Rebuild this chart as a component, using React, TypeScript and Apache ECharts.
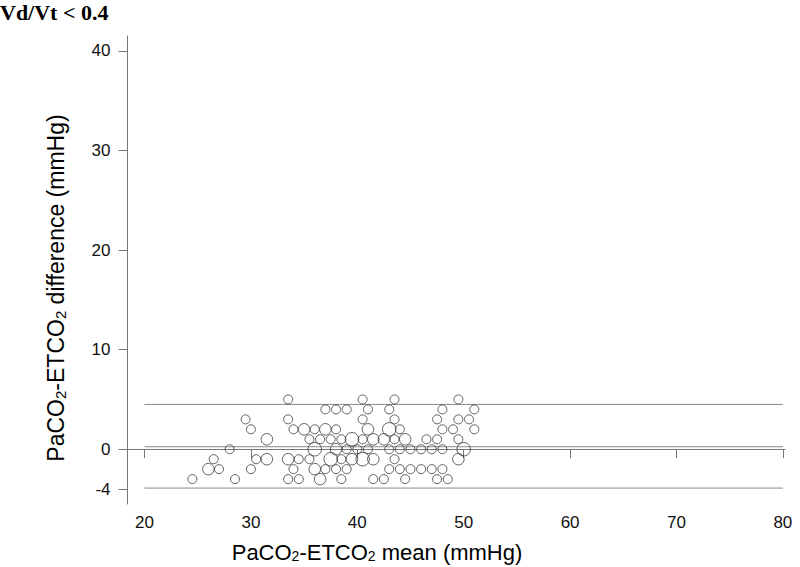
import React, { useEffect, useRef } from "react";
import * as echarts from "echarts";

// Bland-Altman data: mean of PaCO2 & ETCO2 (x), difference (y), number of overlapping cases (n)
const meanVals: number[] = [
  33.5, 40.5, 43.5, 49.5,
  37, 38, 39, 41, 43, 48, 51,
  29.5, 33.5, 40.5, 43.5, 47.5, 49.5, 50.5,
  30, 34, 35, 36, 37, 38, 41, 43, 44, 48, 49, 51,
  31.5, 35.5, 36.5, 37.5, 38.5, 39.5, 40.5, 41.5, 42.5, 43.5, 44.5, 46.5, 47.5, 49.5,
  28, 36, 38, 39, 40, 41, 43, 44, 45, 46, 47, 48, 50,
  26.5, 30.5, 31.5, 33.5, 34.5, 35.5, 37.5, 38.5, 39.5, 40.5, 41.5, 43.5, 49.5,
  26, 27, 30, 34, 36, 37, 38, 39, 43, 44, 45, 46, 47, 48,
  24.5, 28.5, 33.5, 34.5, 36.5, 38.5, 41.5, 42.5, 44.5, 47.5, 48.5,
];
const diffVals: number[] = [
  5, 5, 5, 5,
  4, 4, 4, 4, 4, 4, 4,
  3, 3, 3, 3, 3, 3, 3,
  2, 2, 2, 2, 2, 2, 2, 2, 2, 2, 2, 2,
  1, 1, 1, 1, 1, 1, 1, 1, 1, 1, 1, 1, 1, 1,
  0, 0, 0, 0, 0, 0, 0, 0, 0, 0, 0, 0, 0,
  -1, -1, -1, -1, -1, -1, -1, -1, -1, -1, -1, -1, -1,
  -2, -2, -2, -2, -2, -2, -2, -2, -2, -2, -2, -2, -2, -2,
  -3, -3, -3, -3, -3, -3, -3, -3, -3, -3, -3,
];
const counts: number[] = [
  1, 1, 1, 1,
  1, 1, 1, 1, 1, 1, 1,
  1, 1, 1, 1, 1, 1, 1,
  1, 1, 2, 1, 2, 1, 2, 3, 1, 1, 1, 1,
  2, 1, 1, 1, 1, 3, 1, 2, 2, 1, 2, 1, 1, 1,
  1, 3, 2, 1, 1, 1, 1, 1, 1, 1, 1, 1, 3,
  1, 1, 2, 2, 1, 1, 3, 1, 2, 3, 2, 1, 2,
  2, 1, 1, 1, 2, 1, 1, 1, 1, 1, 1, 1, 1, 1,
  1, 1, 1, 1, 2, 1, 1, 1, 1, 1, 1,
];

// Mean difference and limits of agreement
const biasLine = 0.25;
const upperLimit = 4.5;
const lowerLimit = -3.9;
const lineSpan: number[] = [20, 80];

const xTicks: number[] = [20, 30, 40, 50, 60, 70, 80];
const yTicks: number[] = [-4, 0, 10, 20, 30, 40];

const chartTitle = "Vd/Vt < 0.4";
const xTitleParts = ["PaCO", "2", "-ETCO", "2", " mean (mmHg)"];
const yTitleParts = ["PaCO", "2", "-ETCO", "2", " difference (mmHg)"];

const sizeFor = (n: number) => (n >= 3 ? 13.5 : n === 2 ? 11.5 : 9);

const makeRich = (fs: number, sub: number) => ({
  a: { fontSize: fs, lineHeight: fs, fontFamily: "Liberation Sans, Arial", color: "#111", verticalAlign: "middle" as const },
  s: { fontSize: sub, lineHeight: 9, fontFamily: "Liberation Sans, Arial", color: "#111", verticalAlign: "bottom" as const },
});
const toRich = (parts: string[]) =>
  parts.map((p, i) => (i === 1 || i === 3 ? `{s|${p}}` : `{a|${p}}`)).join("");

export default function App() {
  const ref = useRef<HTMLDivElement>(null);
  useEffect(() => {
    if (!ref.current) return;
    const chart = echarts.init(ref.current, undefined, { renderer: "svg" });
    const points = meanVals.map((x, i) => ({
      value: [x, diffVals[i]],
      symbolSize: sizeFor(counts[i]),
    }));
    const hLine = (v: number) => ({
      type: "line",
      data: lineSpan.map((x) => [x, v]),
      symbol: "none",
      lineStyle: { color: "#8a8a8a", width: 1 },
      silent: true,
      z: 1,
    });
    chart.setOption({
      animation: false,
      grid: { left: 127.5, right: 15, top: 36, bottom: 63 },
      xAxis: {
        type: "value",
        min: 18.4,
        max: 80.2,
        splitLine: { show: false },
        axisLine: { lineStyle: { color: "#777", width: 1 } },
        axisTick: { length: 9, lineStyle: { color: "#777" }, customValues: xTicks },
        axisLabel: {
          customValues: xTicks,
          fontSize: 17,
          fontFamily: "Liberation Sans, Arial",
          color: "#111",
          margin: 10,
        },
      },
      yAxis: {
        type: "value",
        min: -5.5,
        max: 41.5,
        splitLine: { show: false },
        axisLine: { lineStyle: { color: "#777", width: 1 } },
        axisTick: { length: 9, lineStyle: { color: "#777" }, customValues: yTicks },
        axisLabel: {
          customValues: yTicks,
          fontSize: 17,
          fontFamily: "Liberation Sans, Arial",
          color: "#111",
          margin: 17,
        },
      },
      graphic: [
        {
          type: "text",
          left: 0,
          top: 1,
          style: {
            text: chartTitle,
            font: 'bold 22px "Liberation Serif", "Times New Roman", serif',
            fill: "#000",
          },
        },
        {
          type: "text",
          x: 377,
          y: 552,
          style: {
            text: toRich(xTitleParts),
            rich: makeRich(22, 14),
            align: "center",
            verticalAlign: "middle",
          },
        },
        {
          type: "text",
          x: 56,
          y: 288,
          rotation: Math.PI / 2,
          style: {
            text: toRich(yTitleParts),
            rich: makeRich(23, 15),
            align: "center",
            verticalAlign: "middle",
          },
        },
      ],
      series: [
        hLine(upperLimit),
        hLine(biasLine),
        hLine(lowerLimit),
        {
          type: "scatter",
          data: points,
          symbol: "circle",
          itemStyle: { color: "rgba(0,0,0,0)", borderColor: "#3a3a3a", borderWidth: 1 },
          z: 3,
        },
      ],
    });
    return () => chart.dispose();
  }, []);
  return (
    <div
      ref={ref}
      style={{ position: "fixed", left: 0, top: 0, width: 800, height: 567, background: "#fff" }}
    />
  );
}
